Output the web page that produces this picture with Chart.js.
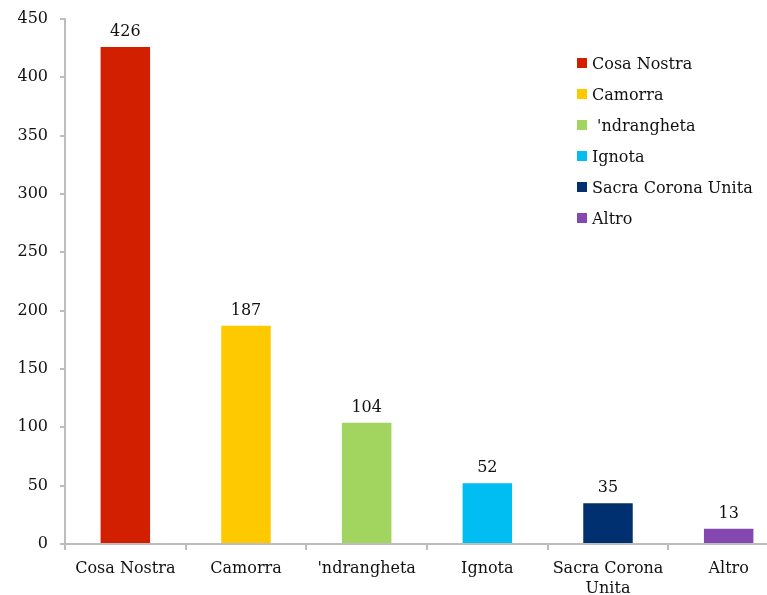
<!DOCTYPE html>
<html>
<head>
<meta charset="utf-8">
<script src="https://cdn.jsdelivr.net/npm/chart.js@4"></script>
<style>
  html, body { margin: 0; padding: 0; background: #fff; overflow: hidden; }
  #wrap { width: 790px; height: 600px; }
</style>
</head>
<body>
<div id="wrap"><canvas id="chart" width="790" height="600"></canvas></div>
<script>
const categories = ['Cosa Nostra', 'Camorra', "'ndrangheta", 'Ignota', ['Sacra Corona', 'Unita'], 'Altro'];
const legendLabels = ['Cosa Nostra', 'Camorra', " 'ndrangheta", 'Ignota', 'Sacra Corona Unita', 'Altro'];
const values = [426, 187, 104, 52, 35, 13];
const colors = ['#d11f00', '#ffc900', '#a1d55f', '#00bdf2', '#00306f', '#8548b0'];
const yTicks = [0, 50, 100, 150, 200, 250, 300, 350, 400, 450];

const FONT = 'DejaVu Serif';

// value labels above bars
const valueLabels = {
    id: 'valueLabels',
    afterDatasetsDraw(chart) {
        const ctx = chart.ctx;
        const meta = chart.getDatasetMeta(0);
        ctx.save();
        ctx.font = '16px "' + FONT + '"';
        ctx.fillStyle = '#111';
        ctx.textAlign = 'center';
        ctx.textBaseline = 'bottom';
        meta.data.forEach((bar, i) => {
            ctx.fillText(String(values[i]), bar.x, bar.y - 7);
        });
        ctx.restore();
    }
};

// legend drawn inside the plot area
const insideLegend = {
    id: 'insideLegend',
    afterDraw(chart) {
        const ctx = chart.ctx;
        ctx.save();
        ctx.font = '16px "' + FONT + '"';
        ctx.textBaseline = 'middle';
        legendLabels.forEach((lab, i) => {
            const y = 63 + i * 31;
            ctx.fillStyle = colors[i];
            ctx.fillRect(577, y - 5, 10, 10);
            ctx.fillStyle = '#111';
            ctx.fillText(lab, 592, y + 2);
        });
        ctx.restore();
    }
};

const ctx = document.getElementById('chart').getContext('2d');
window.myChart = new Chart(ctx, {
    type: 'bar',
    data: {
        labels: categories,
        datasets: [{
            data: values,
            backgroundColor: colors,
            borderWidth: 0,
            barPercentage: 0.41,
            categoryPercentage: 1
        }]
    },
    options: {
        responsive: false,
        animation: false,
        layout: { padding: { top: 19, right: 1, left: 0, bottom: 0 } },
        plugins: {
            legend: { display: false },
            tooltip: { enabled: false }
        },
        scales: {
            y: {
                min: 0,
                max: 450,
                afterBuildTicks: s => { s.ticks = yTicks.map(v => ({ value: v })); },
                afterFit: s => { s.width = 65; s.paddingTop = 0; s.paddingBottom = 0; },
                border: { color: '#bdbdbd', width: 2 },
                grid: { drawOnChartArea: false, color: '#bdbdbd', tickLength: 5, lineWidth: 2 },
                ticks: { color: '#111', padding: 12, font: { family: FONT, size: 16 } }
            },
            x: {
                afterFit: s => { s.height = 56; s.paddingLeft = 0; s.paddingRight = 0; },
                border: { color: '#bdbdbd', width: 2 },
                grid: { drawOnChartArea: false, color: '#bdbdbd', tickLength: 6, lineWidth: 2 },
                ticks: { color: '#111', padding: 9, maxRotation: 0, autoSkip: false, font: { family: FONT, size: 16, lineHeight: 1.25 } }
            }
        }
    },
    plugins: [valueLabels, insideLegend]
});
</script>
</body>
</html>
